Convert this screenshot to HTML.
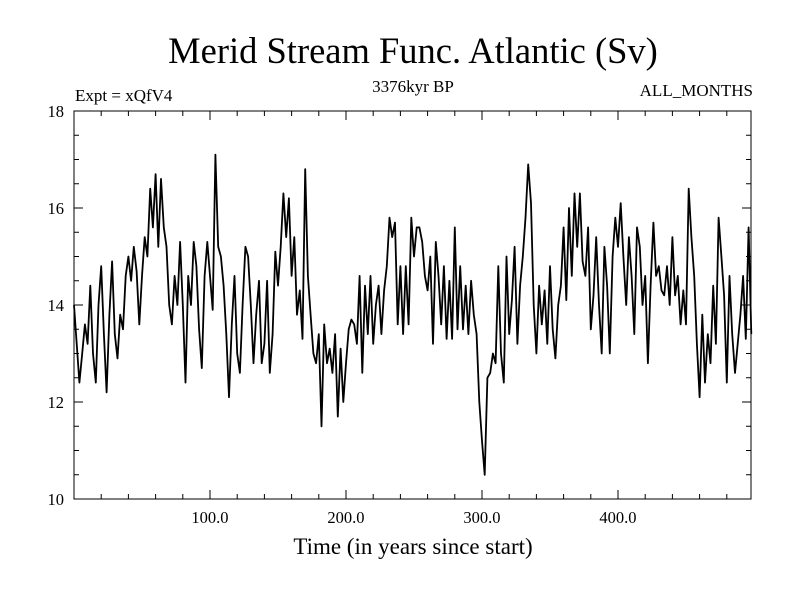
<!DOCTYPE html>
<html><head><meta charset="utf-8"><style>
body{margin:0;background:#fff;}
svg text{font-family:"Liberation Serif",serif;fill:#000;}
</style></head><body>
<svg id="chart" width="800" height="600">
<rect width="800" height="600" fill="#fff"/>
<text x="413" y="63" font-size="36.5" text-anchor="middle">Merid Stream Func. Atlantic (Sv)</text>
<text x="75" y="101" font-size="17">Expt = xQfV4</text>
<text x="413" y="92" font-size="17" text-anchor="middle">3376kyr BP</text>
<text x="753" y="96" font-size="17" text-anchor="end">ALL_MONTHS</text>
<text x="413" y="554" font-size="23" text-anchor="middle">Time (in years since start)</text>
<g id="axes"></g>
<g id="series"></g>
<rect x="74" y="111" width="677" height="388" fill="none" stroke="#000" stroke-width="1"/>
</svg>
<script>
const years = [];
const values = [14.0,13.2,12.4,13.0,13.6,13.2,14.4,13.0,12.4,14.0,14.8,13.4,12.2,13.8,14.9,13.4,12.9,13.8,13.5,14.6,15.0,14.5,15.2,14.7,13.6,14.6,15.4,15.0,16.4,15.6,16.7,15.2,16.6,15.6,15.2,14.0,13.6,14.6,14.0,15.3,14.0,12.4,14.6,14.0,15.3,14.8,13.5,12.7,14.6,15.3,14.6,13.9,17.1,15.2,15.0,14.4,13.4,12.1,13.6,14.6,13.0,12.6,14.0,15.2,15.0,14.0,12.8,13.8,14.5,12.8,13.2,14.5,12.6,13.4,15.1,14.4,15.2,16.3,15.4,16.2,14.6,15.4,13.8,14.3,13.3,16.8,14.6,13.8,13.0,12.8,13.4,11.5,13.6,12.8,13.1,12.6,13.4,11.7,13.1,12.0,12.8,13.5,13.7,13.6,13.2,14.6,12.6,14.4,13.4,14.6,13.2,14.0,14.4,13.4,14.3,14.8,15.8,15.4,15.7,13.6,14.8,13.4,14.8,13.6,15.8,15.0,15.6,15.6,15.3,14.6,14.3,15.0,13.2,15.3,14.6,13.6,14.8,13.3,14.5,13.3,15.6,13.5,14.8,13.5,14.4,13.4,14.5,13.8,13.4,12.0,11.2,10.5,12.5,12.6,13.0,12.8,14.8,13.0,12.4,15.0,13.4,14.1,15.2,13.2,14.4,15.0,15.8,16.9,16.1,14.0,13.0,14.4,13.6,14.3,13.2,14.8,13.5,12.9,14.0,14.4,15.6,14.1,16.0,14.6,16.3,15.2,16.3,14.9,14.6,15.6,13.5,14.2,15.4,14.0,13.0,15.2,14.4,13.0,15.0,15.8,15.2,16.1,15.0,14.0,15.4,14.6,13.4,15.6,15.2,14.0,14.6,12.8,14.4,15.7,14.6,14.8,14.3,14.2,14.8,14.0,15.4,14.2,14.6,13.6,14.3,13.6,16.4,15.4,14.6,13.2,12.1,13.8,12.4,13.4,12.8,14.4,13.2,15.8,15.0,14.2,12.4,14.6,13.4,12.6,13.2,13.8,14.6,13.3,15.6,13.4];
for (let i = 0; i < values.length; i++) years.push(i * 2);
const yTicks = [10, 12, 14, 16, 18];
const xTicks = [100, 200, 300, 400];
const xTickLabels = ["100.0", "200.0", "300.0", "400.0"];

const X0 = 74, X1 = 751, Y0 = 499, Y1 = 111;
const xMin = 0, xMax = 497.8, yMin = 10, yMax = 18;
const xs = t => X0 + (t - xMin) / (xMax - xMin) * (X1 - X0);
const ys = v => Y0 - (v - yMin) / (yMax - yMin) * (Y0 - Y1);
const NS = "http://www.w3.org/2000/svg";
const axes = document.getElementById("axes");

function mk(tag, attrs) {
  const e = document.createElementNS(NS, tag);
  for (const k in attrs) e.setAttribute(k, attrs[k]);
  return e;
}
yTicks.forEach(v => {
  const y = ys(v);
  const l = mk("line", {x1: X0, x2: X0 + 9, y1: y, y2: y, stroke: "#000"});
  
  
  axes.appendChild(l);
  const r = mk("line", {x1: X1 - 9, x2: X1, y1: y, y2: y, stroke: "#000"});
  
  
  axes.appendChild(r);
  const t = mk("text", {x: X0 - 10, y: y + 6, "font-size": 16.5, "text-anchor": "end"});
  t.textContent = String(v);
  
  
  axes.appendChild(t);
});
for (let v = yMin + 0.5; v < yMax; v += 0.5) {
  if (Math.abs(v - Math.round(v / 2) * 2) < 1e-6) continue;
  const y = ys(v);
  const l = mk("line", {x1: X0, x2: X0 + 5, y1: y, y2: y, stroke: "#000"});
  
  
  axes.appendChild(l);
  const r = mk("line", {x1: X1 - 5, x2: X1, y1: y, y2: y, stroke: "#000"});
  
  
  axes.appendChild(r);
}
xTicks.forEach((v, i) => {
  const x = xs(v);
  const l = mk("line", {x1: x, x2: x, y1: Y0, y2: Y0 - 9, stroke: "#000"});
  
  
  axes.appendChild(l);
  const u = mk("line", {x1: x, x2: x, y1: Y1, y2: Y1 + 9, stroke: "#000"});
  
  
  axes.appendChild(u);
  const t = mk("text", {x: x, y: Y0 + 24, "font-size": 16.5, "text-anchor": "middle"});
  t.textContent = xTickLabels[i];
  
  
  axes.appendChild(t);
});
for (let v = 20; v < xMax; v += 20) {
  if (v % 100 === 0) continue;
  const x = xs(v);
  const l = mk("line", {x1: x, x2: x, y1: Y0, y2: Y0 - 5, stroke: "#000"});
  
  
  axes.appendChild(l);
  const u = mk("line", {x1: x, x2: x, y1: Y1, y2: Y1 + 5, stroke: "#000"});
  
  
  axes.appendChild(u);
}
const pts = values.map((v, i) => xs(years[i]).toFixed(1) + "," + ys(v).toFixed(1)).join(" ");
const line = mk("polyline", {points: pts, fill: "none", stroke: "#000", "stroke-width": 1.8, "stroke-linejoin": "round"});


document.getElementById("series").appendChild(line);
</script>
</body></html>
